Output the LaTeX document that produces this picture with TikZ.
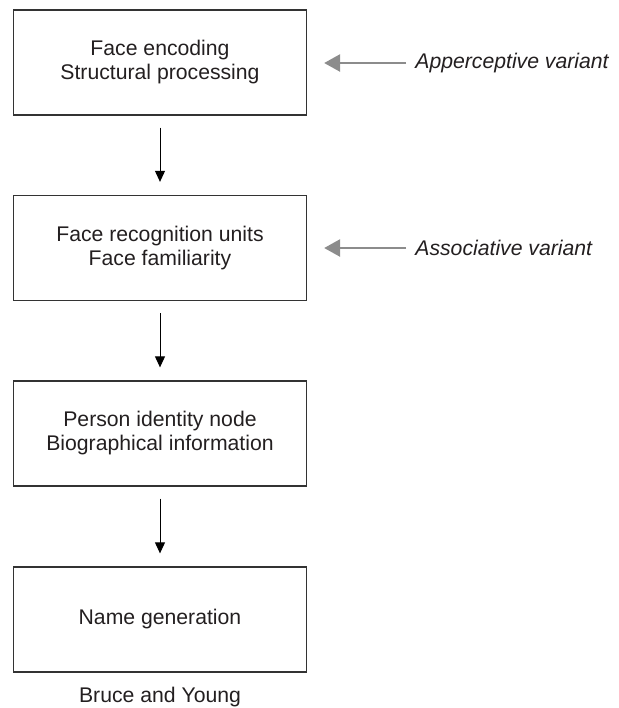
\documentclass[tikz,border=0pt]{standalone}
\usepackage{fontspec}
\setmainfont{Liberation Sans}
\usetikzlibrary{arrows.meta}
\definecolor{boxline}{HTML}{333333}
\definecolor{txt}{HTML}{231F20}
\definecolor{hint}{HTML}{8C8C8C}

\begin{document}
\begin{tikzpicture}[x=0.5pt, y=-0.5pt, >={Triangle[width=5pt,length=5.5pt]},
  stage/.style={draw=boxline, line width=0.65pt, minimum width=146.5pt, minimum height=52.5pt,
    align=center, text=txt, font=\fontsize{10.6}{12}\selectfont},
  variant/.style={anchor=west, inner sep=0pt, text=txt, font=\fontsize{10.6}{12}\selectfont\itshape},
  flow/.style={->, line width=0.5pt, shorten <=6pt, shorten >=6.5pt},
  lesion/.style={-{Triangle[width=8.5pt,length=8pt]}, draw=hint, line width=1.3pt,
    shorten <=4.5pt, shorten >=8.5pt}]

\useasboundingbox (0,0) rectangle (619,708);

\node [stage] (encoding) at (160,62.5) {Face encoding\\Structural processing};
\node [stage] (units) at (160,248) {Face recognition units\\Face familiarity};
\node [stage] (pin) at (160,433.5) {Person identity node\\Biographical information};
\node [stage] (name) at (160,619.5) {Name generation};

\draw [flow] (encoding) -- (units);
\draw [flow] (units) -- (pin);
\draw [flow] (pin) -- (name);

\node [variant] (apper) at (415,63) {Apperceptive variant};
\node [variant] (assoc) at (415,248) {Associative variant};
\draw [lesion] (apper.west) -- (encoding.east |- apper.west);
\draw [lesion] (assoc.west) -- (units.east |- assoc.west);

\node [text=txt, font=\fontsize{10.6}{12}\selectfont] (source) at (160,697) {Bruce and Young};

\end{tikzpicture}
\end{document}
